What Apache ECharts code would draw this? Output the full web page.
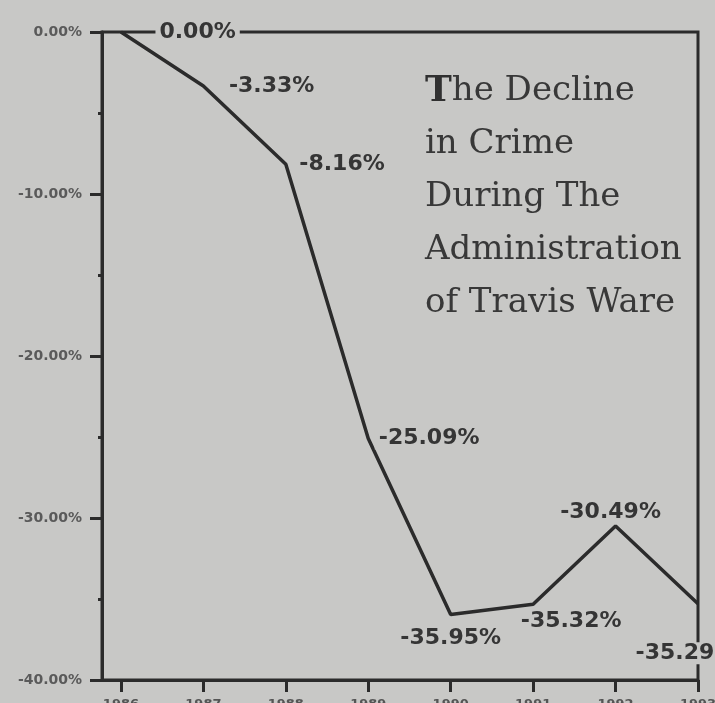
<!DOCTYPE html>
<html>
<head>
<meta charset="utf-8">
<script src="https://cdn.jsdelivr.net/npm/echarts@6/dist/echarts.min.js"></script>
<style>
  html, body { margin: 0; padding: 0; background: #c8c8c6; }
  #chart { width: 715px; height: 703px; }
</style>
</head>
<body>
<div id="chart"></div>
<script>
// data
const years = [1986, 1987, 1988, 1989, 1990, 1991, 1992, 1993]
const change = [0.00, -3.33, -8.16, -25.09, -35.95, -35.32, -30.49, -35.29]

// where each point label sits (styling only)
const labelPlace = [
  { position: 'right', distance: 34 },
  { position: 'right', distance: 21 },
  { position: 'right', distance: 9 },
  { position: 'right', distance: 6 },
  { position: 'bottom', distance: 12 },
  { position: 'bottom', distance: 6, offset: [38, 0] },
  { position: 'top', distance: 2, offset: [-5, 0] },
  { position: 'bottom', distance: 38, offset: [-12, 0] }
]

const BG = '#c8c8c6'
const INK = '#2b2b2b'

const chart = echarts.init(document.getElementById('chart'))

chart.setOption({
  backgroundColor: BG,
  animation: false,
  title: {
    left: 420,
    top: 60,
    text: '{b|T}{n|he Decline}\n{n|in Crime}\n{n|During The}\n{n|Administration}\n{n|of Travis Ware}',
    textStyle: {
      fontWeight: 'normal',
      rich: {
        b: { fontFamily: 'DejaVu Serif', fontSize: 36, fontWeight: 'bold', color: '#303030', lineHeight: 53 },
        n: { fontFamily: 'DejaVu Serif', fontSize: 34, fontWeight: 'normal', color: '#383838', lineHeight: 53 }
      }
    }
  },
  grid: {
    left: 102, right: 17, top: 32, bottom: 23,
    outerBoundsMode: 'none',
    containLabel: false,
    show: true,
    borderColor: INK,
    borderWidth: 3,
    backgroundColor: 'transparent'
  },
  xAxis: {
    type: 'value',
    min: 1985.77,
    max: 1993,
    axisLine: { show: true, onZero: false, lineStyle: { color: INK, width: 3 } },
    axisTick: { show: true, inside: false, length: 12, lineStyle: { color: INK, width: 3 }, customValues: years },
    axisLabel: {
      customValues: years,
      margin: 18,
      color: '#555',
      fontFamily: 'DejaVu Sans',
      fontWeight: 'bold',
      fontSize: 13,
      formatter: v => String(v)
    },
    splitLine: { show: false }
  },
  yAxis: {
    type: 'value',
    min: -40,
    max: 0,
    interval: 10,
    axisLine: { show: true, onZero: false, lineStyle: { color: INK, width: 3 } },
    axisTick: { show: true, length: 12, lineStyle: { color: INK, width: 3 } },
    minorTick: { show: true, splitNumber: 2, length: 4, lineStyle: { color: INK, width: 3 } },
    axisLabel: {
      margin: 20,
      color: '#5a5a5a',
      fontFamily: 'DejaVu Sans',
      fontWeight: 'bold',
      fontSize: 14,
      formatter: v => v.toFixed(2) + '%'
    },
    splitLine: { show: false }
  },
  series: [{
    type: 'line',
    data: years.map((y, i) => ({
      value: [y, change[i]],
      label: labelPlace[i]
    })),
    symbol: 'circle',
    symbolSize: 1,
    showSymbol: true,
    itemStyle: { color: 'rgba(0,0,0,0)' },
    lineStyle: { color: INK, width: 3.5 },
    label: {
      show: true,
      formatter: p => p.value[1].toFixed(2) + '%',
      fontFamily: 'DejaVu Sans',
      fontWeight: 'bold',
      fontSize: 22,
      color: '#353535',
      backgroundColor: BG,
      padding: [0, 4]
    },
    z: 3
  }]
})
</script>
</body>
</html>
